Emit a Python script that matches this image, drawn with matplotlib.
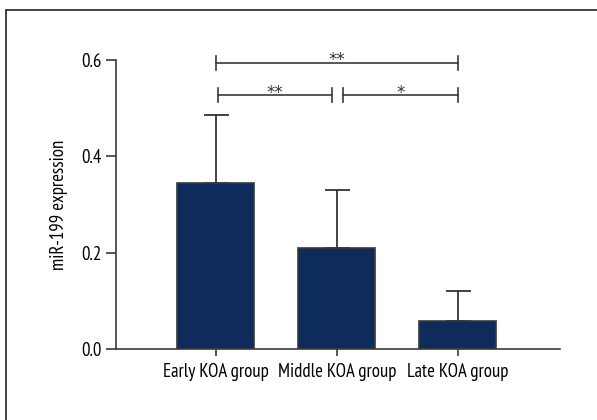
import matplotlib.pyplot as plt
from matplotlib.patches import Rectangle

groups = ["Early KOA group", "Middle KOA group", "Late KOA group"]
means = [0.344, 0.211, 0.058]
errors = [0.141, 0.120, 0.064]
# significance brackets: (left index, right index, height, label)
brackets = [(0, 2, 0.594, "**"), (0, 1, 0.527, "**"), (1, 2, 0.527, "*")]

plt.rcParams['font.family'] = ['PT Sans Narrow', 'DejaVu Sans']

fig = plt.figure(figsize=(5.97, 4.20), dpi=100)
ax = fig.add_axes([0.1943, 0.1679, 0.7437, 0.6893])

edge = "#3a3a3a"
x = list(range(len(groups)))
ax.bar(x, means, width=0.636, color="#0d2c5c", edgecolor=edge, linewidth=1.2, zorder=2)
ax.errorbar(x, means, yerr=[[0] * 3, errors], fmt="none", ecolor="#222222",
            elinewidth=1.2, capsize=9, capthick=1.2, zorder=1)

ax.set_xlim(-0.826, 2.843)
ax.set_ylim(0, 0.6)
ax.set_yticks([0.0, 0.2, 0.4, 0.6])
ax.set_yticklabels(["0.0", "0.2", "0.4", "0.6"])
ax.set_xticks(x)
ax.set_xticklabels(groups)
ax.tick_params(axis="y", length=7, width=1.2, color=edge, labelsize=13.5, pad=3)
ax.tick_params(axis="x", length=5, width=1.2, color=edge, labelsize=13.5, pad=5)
for s in ["top", "right"]:
    ax.spines[s].set_visible(False)
for s in ["left", "bottom"]:
    ax.spines[s].set_color(edge)
    ax.spines[s].set_linewidth(1.2)
ax.set_ylabel("miR-199 expression", fontsize=13.5, labelpad=10)

tick_h = 0.014
for i, j, h, lab in brackets:
    x0, x1 = i, j
    if (i, j) == (0, 1):
        x0, x1 = i + 0.015, j - 0.04
    elif (i, j) == (1, 2):
        x0 = i + 0.05
    ax.plot([x0, x1], [h, h], color=edge, lw=1.2, clip_on=False)
    ax.plot([x0, x0], [h - tick_h, h + tick_h], color=edge, lw=1.2, clip_on=False)
    ax.plot([x1, x1], [h - tick_h, h + tick_h], color=edge, lw=1.2, clip_on=False)
    ax.text((x0 + x1) / 2, h - 0.005, lab, ha="center", va="baseline", fontsize=12,
            family="DejaVu Sans", color="#333333", clip_on=False)

# outer frame
fig.patches.append(Rectangle((6 / 597, -0.05), 1.2, (420 - 10) / 420 + 0.05,
                             transform=fig.transFigure, fill=False,
                             edgecolor="#222222", linewidth=1.2))

fig.savefig("out.png", dpi=100)
